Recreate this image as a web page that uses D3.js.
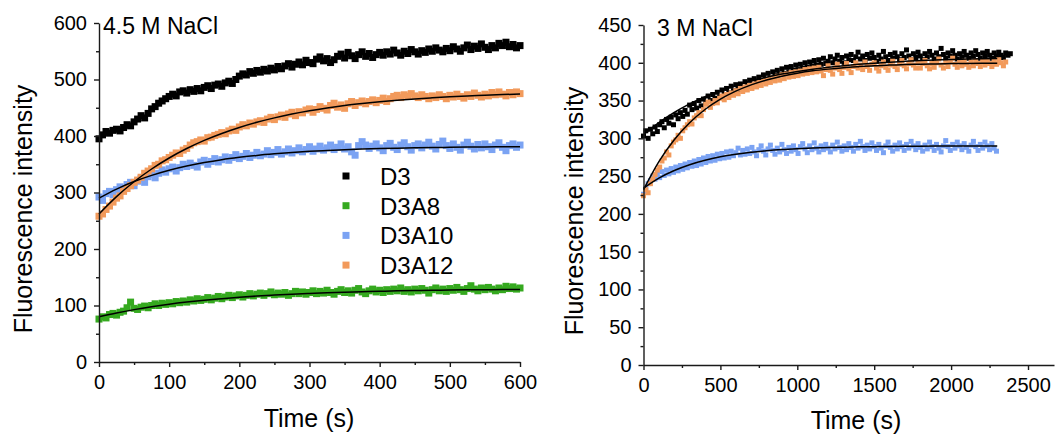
<!DOCTYPE html>
<html>
<head>
<meta charset="utf-8">
<script src="https://cdn.jsdelivr.net/npm/d3@7"></script>
<style>
  body { margin: 0; background: #fff; }
  svg { display: block; font-family: "Liberation Sans", Arial, sans-serif; }
</style>
</head>
<body>
<script>
// ---- data ----
const seriesNames = ["D3", "D3A8", "D3A10", "D3A12"];

// left panel, 4.5 M NaCl, one reading every 5 s
const leftStep = 5;
const leftD3 = [
  395,402,408,405,410,412,409,415,420,418,
  425,430,436,432,440,448,452,458,462,466,
  470,474,471,478,480,476,482,479,484,480,
  486,489,484,490,492,488,494,497,493,500,
  506,510,508,514,511,516,513,518,515,520,
  517,523,519,524,528,522,527,531,526,534,
  530,528,536,540,533,537,530,535,541,545,
  538,548,542,537,544,549,541,546,539,544,
  548,543,549,545,552,547,543,550,546,553,
  549,545,551,548,554,550,556,552,549,555,
  551,558,554,550,556,561,553,559,555,563,
  557,553,560,556,564,560,566,558,562,556,
  560];
const leftD3A8 = [
  76,80,78,84,86,83,88,90,96,106,
  95,93,97,99,96,100,103,100,104,102,
  105,103,107,105,108,106,110,108,112,109,
  111,114,110,113,116,112,115,118,114,117,
  119,115,118,121,117,120,122,118,121,124,
  119,122,120,123,118,121,125,121,124,120,
  123,126,121,125,122,127,123,120,125,128,
  123,126,122,127,130,124,121,126,129,124,
  127,123,128,125,129,126,131,125,128,124,
  129,126,130,127,122,128,131,126,129,125,
  130,127,132,128,125,130,135,129,126,131,
  128,132,129,126,131,128,134,130,133,129,
  131];
const leftD3A10 = [
  292,286,298,302,296,305,310,304,314,318,
  312,320,325,318,328,332,326,334,340,336,
  342,345,338,344,350,346,352,348,345,354,
  357,350,355,360,354,358,363,357,362,367,
  360,364,369,362,366,371,365,368,374,367,
  371,376,368,372,377,370,374,379,372,376,
  381,373,377,382,375,379,384,376,380,386,
  377,381,372,366,383,390,384,378,382,386,
  379,374,383,387,380,376,384,388,381,375,
  383,386,379,384,389,382,377,385,391,383,
  378,386,380,375,384,389,382,377,385,379,
  386,381,376,384,388,380,374,383,386,380,
  384];
const leftD3A12 = [
  258,262,270,276,283,290,294,302,307,312,
  318,322,327,334,338,342,348,350,356,358,
  362,366,370,369,375,378,384,388,390,393,
  391,397,398,401,403,406,404,409,412,410,
  416,420,418,423,421,425,427,424,430,433,
  429,434,437,433,439,442,436,443,441,446,
  448,442,447,452,449,446,454,458,451,455,
  449,457,461,454,459,462,457,461,464,459,
  463,467,461,466,470,472,468,473,470,475,
  471,468,473,470,466,471,468,473,470,466,
  472,469,474,470,467,473,470,476,472,469,
  474,471,477,473,478,474,471,477,473,478,
  475];

// fitted curves, left panel
const leftFitTimes = [0,25,50,75,100,125,150,175,200,225,250,275,300,325,350,375,400,425,450,475,500,525,550,575,600];
const leftFitD3A8 = [80,86.8,92.7,97.8,102.2,106.0,109.3,112.1,114.6,116.7,118.5,120.1,121.4,122.6,123.6,124.5,125.2,125.9,126.5,126.9,127.4,127.7,128.0,128.3,128.5];
const leftFitD3A10 = [290,306.1,319.4,330.3,339.4,346.8,353.0,358.1,362.2,365.7,368.5,370.9,372.8,374.4,375.8,376.9,377.8,378.5,379.1,379.6,380.0,380.4,380.7,380.9,381.1];
const leftFitD3A12 = [262,292.7,319.0,341.6,361.1,377.8,392.2,404.5,415.1,424.3,432.1,438.8,444.6,449.6,453.9,457.5,460.7,463.4,465.7,467.7,469.5,471.0,472.2,473.3,474.3];

// right panel, 3 M NaCl, one reading every 15 s
const rightStep = 15;
const rightD3 = [
  303,310,300,312,306,315,309,318,322,314,
  325,320,328,318,331,326,334,329,337,332,
  344,338,346,340,350,343,352,347,356,350,
  358,353,361,355,364,358,366,360,369,363,
  371,365,372,367,375,369,377,371,379,374,
  381,376,384,378,386,380,388,383,390,385,
  392,386,394,388,395,390,397,391,398,393,
  400,394,401,396,403,397,404,398,406,399,
  402,408,400,405,410,402,407,400,409,404,
  411,403,408,414,405,409,403,411,406,413,
  407,402,410,405,415,408,403,411,406,413,
  408,404,412,407,417,409,404,412,407,414,
  409,404,412,408,415,410,405,413,408,419,
  411,406,413,409,416,410,405,412,408,415,
  410,406,413,409,416,411,406,413,409,415,
  410,406,413,409,414,410,407,413,410,412];
const rightD3A10 = [
  226,234,240,244,250,246,253,248,256,251,
  258,253,260,255,262,257,264,259,266,261,
  268,263,270,264,272,266,274,268,276,270,
  277,271,279,273,280,274,282,275,283,277,
  281,287,278,284,279,286,280,288,282,277,
  285,290,283,278,286,291,284,279,287,282,
  292,285,280,288,283,290,285,280,289,293,
  286,281,290,285,294,287,282,290,285,292,
  287,282,291,286,295,288,283,290,285,293,
  288,283,292,287,296,289,284,291,286,294,
  289,284,292,287,281,290,295,288,283,291,
  286,294,289,284,292,287,296,290,285,293,
  288,283,291,286,295,289,284,292,287,282,
  290,297,289,284,292,287,295,290,285,293,
  288,283,291,296,289,284,292,287,295,290,
  285,293,287,283];
const rightD3A12 = [
  224,232,228,240,246,252,258,262,270,274,
  282,278,290,295,298,304,300,310,314,318,
  322,319,327,330,334,330,338,345,348,341,
  346,350,347,353,356,351,358,354,360,357,
  363,359,366,362,368,364,370,366,372,368,
  374,370,376,372,378,374,380,376,382,377,
  384,379,385,381,387,382,388,383,389,385,
  391,386,392,387,393,388,394,389,383,391,
  396,390,385,393,398,391,386,394,399,392,
  387,395,400,393,397,391,401,395,390,398,
  400,393,389,396,401,394,390,397,402,395,
  391,398,403,396,392,399,404,397,393,400,
  393,399,403,396,392,399,394,400,405,397,
  393,400,395,401,406,398,394,401,396,402,
  398,394,401,396,403,399,395,402,397,403,
  399,395,402,398,404,400,396,401];

// fitted curves, right panel
const rightFitTimes = [0,100,200,300,400,500,600,700,800,900,1000,1100,1200,1300,1400,1500,1600,1700,1800,1900,2000,2100,2200,2300];
const rightFitD3 = [305,320.8,334.2,345.5,355.1,363.2,370.1,375.9,380.8,385.0,388.5,391.5,394.1,396.2,398.0,399.5,400.8,401.9,402.9,403.7,404.3,404.9,405.4,405.8];
const rightFitD3A10 = [234,247.3,257.4,265.1,271.0,275.5,278.9,281.6,283.6,285.1,286.2,287.1,287.8,288.3,288.7,289.0,289.3,289.4,289.6,289.7,289.7,289.8,289.9,289.9];
const rightFitD3A12 = [232,269.2,298.1,320.6,338.2,351.9,362.5,370.8,377.3,382.3,386.2,389.3,391.6,393.5,394.9,396.1,396.9,397.6,398.1,398.5,398.9,399.1,399.3,399.5];

// ticks
const leftXTicks = [0,100,200,300,400,500,600];
const leftXMinor = [50,150,250,350,450,550];
const leftYTicks = [0,100,200,300,400,500,600];
const leftYMinor = [50,150,250,350,450,550];
const rightXTicks = [0,500,1000,1500,2000,2500];
const rightXMinor = [250,750,1250,1750,2250];
const rightYTicks = [0,50,100,150,200,250,300,350,400,450];
const rightYMinor = [25,75,125,175,225,275,325,375,425];

const colors = { D3: "#000000", D3A8: "#35a91f", D3A10: "#7ba3f3", D3A12: "#f29a5b" };

const width = 1056, height = 435;
const svg = d3.select("body").append("svg")
    .attr("width", width)
    .attr("height", height)
    .attr("viewBox", [0, 0, width, height]);

svg.append("rect").attr("width", width).attr("height", height).attr("fill", "#fff");

function drawPanel(o) {
  const x = d3.scaleLinear(o.xDomain, o.xRange);
  const y = d3.scaleLinear(o.yDomain, o.yRange);
  const g = svg.append("g");

  // points
  o.series.forEach(s => {
    const pts = s.values.map((v, i) => [i * o.step, v]);
    g.append("g")
      .attr("fill", colors[s.name])
      .selectAll("rect")
      .data(pts)
      .join("rect")
        .attr("x", d => x(d[0]) - o.size / 2)
        .attr("y", d => y(d[1]) - o.size / 2)
        .attr("width", o.size)
        .attr("height", o.size);
  });

  // fits
  const line = d3.line()
      .curve(d3.curveMonotoneX)
      .x((d, i) => x(o.fitTimes[i]))
      .y(d => y(d));
  o.fits.forEach(f => {
    g.append("path")
      .attr("fill", "none")
      .attr("stroke", "#000")
      .attr("stroke-width", 1.5)
      .attr("d", line(f));
  });

  // axes
  const axisStyle = a => {
    a.selectAll("path, line").attr("stroke", "#1a1a1a").attr("stroke-width", 1.4);
    a.selectAll("text").attr("fill", "#000").attr("font-size", 20)
      .attr("font-family", '"Liberation Sans", Arial, sans-serif');
  };

  g.append("g")
    .attr("transform", `translate(0,${o.yRange[0]})`)
    .call(d3.axisBottom(x).tickValues(o.xMinor).tickSize(3).tickFormat(""))
    .call(a => a.select(".domain").remove())
    .call(axisStyle);
  g.append("g")
    .attr("transform", `translate(${o.xRange[0]},0)`)
    .call(d3.axisLeft(y).tickValues(o.yMinor).tickSize(3).tickFormat(""))
    .call(a => a.select(".domain").remove())
    .call(axisStyle);

  g.append("g")
    .attr("transform", `translate(0,${o.yRange[0]})`)
    .call(d3.axisBottom(x).tickValues(o.xTicks).tickFormat(d3.format("d"))
      .tickSize(5).tickSizeOuter(0).tickPadding(8))
    .call(axisStyle);
  g.append("g")
    .attr("transform", `translate(${o.xRange[0]},0)`)
    .call(d3.axisLeft(y).tickValues(o.yTicks).tickFormat(d3.format("d"))
      .tickSize(5).tickSizeOuter(0).tickPadding(7))
    .call(axisStyle);

  // titles
  g.append("text")
    .attr("x", o.titleX).attr("y", o.titleY)
    .attr("font-size", 23)
    .text(o.title);
  g.append("text")
    .attr("x", o.xTitleX).attr("y", o.xTitleY)
    .attr("text-anchor", "middle")
    .attr("font-size", 25)
    .text("Time (s)");
  g.append("text")
    .attr("transform", `translate(${o.yTitleX},${o.yTitleY}) rotate(-90)`)
    .attr("text-anchor", "middle")
    .attr("font-size", 25)
    .text("Fluorescence intensity");

  return { x, y };
}

drawPanel({
  xDomain: [0, 600], xRange: [99, 520],
  yDomain: [0, 600], yRange: [362, 23],
  xTicks: leftXTicks, xMinor: leftXMinor, yTicks: leftYTicks, yMinor: leftYMinor,
  step: leftStep, size: 7,
  series: [
    { name: "D3", values: leftD3 },
    { name: "D3A8", values: leftD3A8 },
    { name: "D3A10", values: leftD3A10 },
    { name: "D3A12", values: leftD3A12 }
  ],
  fitTimes: leftFitTimes,
  fits: [leftFitD3A8, leftFitD3A10, leftFitD3A12],
  title: "4.5 M NaCl", titleX: 103, titleY: 34,
  xTitleX: 309, xTitleY: 427,
  yTitleX: 32, yTitleY: 209
});

drawPanel({
  xDomain: [0, 2669], xRange: [643.5, 1054],
  yDomain: [0, 450], yRange: [365, 25],
  xTicks: rightXTicks, xMinor: rightXMinor, yTicks: rightYTicks, yMinor: rightYMinor,
  step: rightStep, size: 5,
  series: [
    { name: "D3", values: rightD3 },
    { name: "D3A10", values: rightD3A10 },
    { name: "D3A12", values: rightD3A12 }
  ],
  fitTimes: rightFitTimes,
  fits: [rightFitD3, rightFitD3A10, rightFitD3A12],
  title: "3 M NaCl", titleX: 657, titleY: 36,
  xTitleX: 856, xTitleY: 429,
  yTitleX: 583, yTitleY: 211
});

// legend (left panel)
const legend = svg.append("g");
seriesNames.forEach((name, i) => {
  const cy = 176 + i * 29.7;
  legend.append("rect")
    .attr("x", 346 - 3.5).attr("y", cy - 3.5)
    .attr("width", 7).attr("height", 7)
    .attr("fill", colors[name]);
  legend.append("text")
    .attr("x", 380).attr("y", cy + 9)
    .attr("font-size", 24)
    .text(name);
});
</script>
</body>
</html>
